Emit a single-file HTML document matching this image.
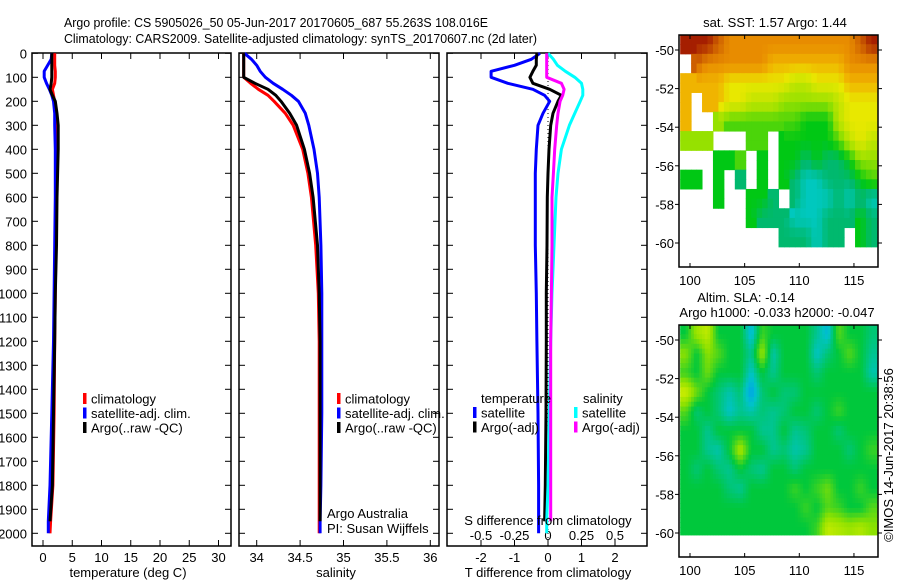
<!DOCTYPE html>
<html><head><meta charset="utf-8">
<style>
html,body{margin:0;padding:0;background:#fff;}
svg{display:block;font-family:"Liberation Sans",Arial,sans-serif;}
text{font-size:13px;fill:#000;}
</style></head>
<body>
<svg id="chart" width="900" height="580" viewBox="0 0 900 580" xmlns="http://www.w3.org/2000/svg">
<rect x="0" y="0" width="900" height="580" fill="#fff"/>
<text x="64" y="27" font-size="14" textLength="424" lengthAdjust="spacingAndGlyphs">Argo profile: CS 5905026_50 05-Jun-2017 20170605_687 55.263S 108.016E</text>
<text x="64" y="43" font-size="14" textLength="473" lengthAdjust="spacingAndGlyphs">Climatology: CARS2009. Satellite-adjusted climatology: synTS_20170607.nc (2d later)</text>
<g id="plots"></g>
</svg>
<script>
// ---- profile data ----
const depths = [0,25,50,75,100,125,150,175,200,250,300,400,500,600,800,1000,1200,1500,1800,1950,2000];
const climT = [2.0,2.0,2.0,2.1,2.1,2.0,1.6,1.8,2.0,2.2,2.3,2.3,2.3,2.3,2.2,2.1,2.0,1.9,1.7,1.3,1.2];
const satT  = [1.5,1.4,0.8,0.2,0.2,0.6,1.1,1.5,1.8,2.0,2.0,2.1,2.1,2.1,2.0,1.9,1.8,1.5,1.2,0.9,0.9];
const argoT = [1.5,1.5,1.5,1.5,1.5,1.4,1.2,1.6,2.1,2.4,2.6,2.6,2.5,2.4,2.3,2.1,2.0,1.8,1.6,1.2,null];
const climS = [33.85,33.85,33.85,33.85,33.85,33.93,34.02,34.13,34.2,34.33,34.42,34.53,34.59,34.63,34.68,34.71,34.72,34.72,34.72,34.72,34.72];
const satS  = [33.86,33.94,34.0,34.04,34.1,34.19,34.3,34.4,34.48,34.56,34.6,34.66,34.7,34.72,34.74,34.75,34.75,34.75,34.74,34.73,34.73];
const argoS = [33.85,33.85,33.85,33.85,33.85,33.98,34.13,34.22,34.28,34.38,34.46,34.55,34.61,34.65,34.7,34.72,34.73,34.73,34.73,34.73,null];
const satTd  = [-0.24,-0.5,-1.0,-1.7,-1.7,-1.2,-0.45,-0.1,0.05,-0.15,-0.3,-0.35,-0.38,-0.38,-0.38,-0.35,-0.33,-0.3,-0.28,-0.28,-0.28];
const argoTd = [-0.33,-0.35,-0.35,-0.45,-0.54,-0.45,0.05,0.4,0.3,0.15,0.08,0.03,0.0,-0.02,-0.03,-0.05,-0.05,-0.06,-0.08,-0.1,null];
const satSd  = [0,0.04,0.07,0.13,0.2,0.25,0.26,0.26,0.24,0.2,0.16,0.1,0.075,0.06,0.045,0.03,0.02,0.01,0.0,-0.01,-0.01];
const argoSd = [-0.01,-0.01,-0.01,-0.01,-0.01,0.1,0.12,0.11,0.09,0.075,0.065,0.05,0.04,0.03,0.03,0.025,0.02,0.02,0.02,0.02,null];
const depthTicks = [0,100,200,300,400,500,600,700,800,900,1000,1100,1200,1300,1400,1500,1600,1700,1800,1900,2000];
const tempTicks = [0,5,10,15,20,25,30];
const salTicks = [34,34.5,35,35.5,36];
const tdTicks = [-2,-1,0,1,2];
const sdTicks = [-0.5,-0.25,0,0.25,0.5];
const sdTickLabels = ["-0.5","-0.25","0","0.25","0.5"];
// ---- map data ----
const mapLons = [99.1,100.1,101.1,102.1,103.1,104.1,105.1,106.1,107.1,108.1,109.1,110.1,111.1,112.1,113.1,114.1,115.1,116.1];
const mapLats = [-49.2,-50.2,-51.2,-52.2,-53.2,-54.2,-55.2,-56.2,-57.2,-58.2,-59.2];
const N = null;
const sstGrid = [
 [6,6,6,5.5,5,5,5,5,5,5,5,5,5,5,5,5,5.5,6],
 [N,5.5,5,5,5,5,5,5,4.5,4.5,4.5,4.5,4.5,4.5,4.5,5,5,5],
 [4.5,4.5,4.5,4.5,4,4,4,4,4,4,3.5,3.5,4,4,4,4.5,4.5,4.5],
 [4.5,N,4.5,4.5,4,4,3.5,3.5,3.5,3,3,3,3,3,3.5,4,4,4],
 [4.5,N,N,3,2.5,2.5,2.5,2.5,2.5,2.5,2.5,2,2,2,3.5,4,4,4],
 [3,3,3,N,N,N,2.5,2.5,N,2,2,2,2,2,2.5,3.5,4,3.5],
 [N,N,N,2,2,2.5,N,2,N,2,2,1.5,2,1.5,1.5,2,3,3],
 [2,2,N,2,N,1.5,N,2,N,2,1.5,1,1,1.5,1.5,1.5,2,2.5],
 [N,N,N,2,N,N,2,2,1.5,N,1.5,1,1,1,1.5,1,1.5,1],
 [N,N,N,N,N,N,2,1.5,1.5,1.5,1,1,1,1.5,1.5,1.5,2,1.5],
 [N,N,N,N,N,N,N,N,N,1.5,1.5,1.5,1,1.5,1.5,N,2,1.5]
];
const slaGrid = [
 [0,0.6,0.8,0,0,0,-0.6,0.2,0,0,0,0,-0.3,-0.6,0.3,0,0,-0.2],
 [0.5,0,0.5,0.3,0,0,-0.3,0.6,-0.4,0,0,0,-0.5,-0.2,0,0.3,0,-0.3],
 [0.2,0,0.4,0,0,0,-0.5,0,-0.3,0,0,0,-0.2,0,0,0,0,-0.4],
 [0.9,0.4,0,-0.2,-0.4,-0.2,-0.8,-0.2,0,-0.2,-0.2,0,0,0,0,0,0,0],
 [0.3,-0.2,0,-0.2,-0.5,-0.3,-0.4,-0.2,-0.3,-0.2,0,0,-0.2,0,0.2,0,0,0],
 [0,0,-0.3,0,0,0,0,-0.3,-0.3,0,-0.3,-0.2,0,0,-0.2,0,0,0],
 [0,0,-0.3,-0.4,0,0.7,0,0,-0.3,-0.2,-0.4,-0.3,0,0,0,-0.2,0,0.2],
 [0,-0.2,0,-0.2,-0.3,0,-0.2,-0.3,0,0,-0.2,0,0,0,0,0,0,0],
 [0,0,0,0,-0.2,-0.3,0,0,0,0,0.2,0,0.2,0.4,0,0,0.2,0],
 [0,0,0,0,0,0,0,0,0,0,0,0.2,0,0.3,0.2,0,0,0.3],
 [0,0,0,0,0,0,0,0,0,0,0,0,0.2,0.8,0.7,0.6,0.7,0.5]
];
const lonTicks = [100,105,110,115];
const latTicks = [-50,-52,-54,-56,-58,-60];

const NS = "http://www.w3.org/2000/svg";
const root = document.getElementById('plots');
function el(tag, attrs, parent){ const e=document.createElementNS(NS,tag); for(const k in attrs) e.setAttribute(k,attrs[k]); (parent||root).appendChild(e); return e; }
function txt(s, x, y, anchor, parent){ const t=el('text',{x:x,y:y,'text-anchor':anchor||'start'},parent); t.textContent=s; return t; }

const yD = d => 53.3 + d*0.24;
const PTOP=53, PBOT=546;

function panel(name, x0, x1){
  const g = el('g',{});
  
  
  const r = el('rect',{x:x0,y:PTOP,width:x1-x0,height:PBOT-PTOP,fill:'none',stroke:'#000','stroke-width':1.5},g);
  
  
  depthTicks.forEach(d=>{
    el('line',{x1:x0,x2:x0+6,y1:yD(d),y2:yD(d),stroke:'#000'},g);
    el('line',{x1:x1,x2:x1-6,y1:yD(d),y2:yD(d),stroke:'#000'},g);
  });
  return g;
}
function xticks(g, ticks, fx, labels, ly){
  ticks.forEach((t,i)=>{
    const x=fx(t);
    el('line',{x1:x,x2:x,y1:PTOP,y2:PTOP+6,stroke:'#000'},g);
    el('line',{x1:x,x2:x,y1:PBOT,y2:PBOT-6,stroke:'#000'},g);
    const tl = txt(labels?labels[i]:String(t), x, ly, 'middle', g);
    
    
  });
}
function series(g, vals, fx, color, name, w){
  let pts=[];
  vals.forEach((v,i)=>{ if(v!==null) pts.push(fx(v).toFixed(1)+','+yD(depths[i]).toFixed(1)); });
  const p = el('polyline',{points:pts.join(' '),fill:'none',stroke:color,'stroke-width':w||3,'stroke-linejoin':'round'},g);
  
  
}
function legend(g, items, x, y0){
  items.forEach((it,i)=>{
    const y=y0+i*14.5;
    el('rect',{x:x,y:y-6,width:3.5,height:11,fill:it[1]},g);
    const t=txt(it[0], x+8, y+4.5, 'start', g);
    
    
  });
}

depthTicks.forEach(d=>{ const t=txt(String(d), 27, yD(d)+5, 'end');   });

const xT = t => 43 + t*5.85;
const g1 = panel('temperature-panel', 32, 231);
xticks(g1, tempTicks, xT, null, 562);
series(g1, climT, xT, '#ff0000', 'temp-climatology-line');
series(g1, satT, xT, '#0000ff', 'temp-satellite-line');
series(g1, argoT, xT, '#000000', 'temp-argo-line');
legend(g1, [['climatology','#f00'],['satellite-adj. clim.','#00f'],['Argo(..raw -QC)','#000']], 83, 399);
const at1=txt('temperature (deg C)', 128, 577, 'middle', g1);  

const xS = s => 256.7 + (s-34)*86.8;
const g2 = panel('salinity-panel', 239, 439);
xticks(g2, salTicks, xS, null, 562);
series(g2, climS, xS, '#ff0000', 'sal-climatology-line');
series(g2, satS, xS, '#0000ff', 'sal-satellite-line');
series(g2, argoS, xS, '#000000', 'sal-argo-line');
legend(g2, [['climatology','#f00'],['satellite-adj. clim.','#00f'],['Argo(..raw -QC)','#000']], 337, 399);
const c1=txt('Argo Australia', 327, 518, 'start', g2);  
const c2=txt('PI: Susan Wijffels', 327, 533, 'start', g2);  
const at2=txt('salinity', 336, 577, 'middle', g2);  

const xTd = t => 548 + t*33.5;
const xSd = s => 548 + s*134;
const g3 = panel('difference-panel', 447, 647);
tdTicks.forEach(t=>{ const x=xTd(t); el('line',{x1:x,x2:x,y1:PTOP,y2:PTOP+6,stroke:'#000'},g3); el('line',{x1:x,x2:x,y1:PBOT,y2:PBOT-6,stroke:'#000'},g3); const tl=txt(String(t),x,562,'middle',g3);   });
sdTicks.forEach((s,i)=>{ const tl=txt(sdTickLabels[i], xSd(s), 540, 'middle', g3);   });
el('line',{x1:548,x2:548,y1:PTOP,y2:PBOT,stroke:'#000','stroke-width':1,'stroke-dasharray':'1,3'},g3);
series(g3, satTd, xTd, '#0000ff', 'tdiff-satellite-line');
series(g3, argoTd, xTd, '#000000', 'tdiff-argo-line');
series(g3, satSd, xSd, '#00ffff', 'sdiff-satellite-line');
series(g3, argoSd, xSd, '#ff00ff', 'sdiff-argo-line');
const lt=txt('temperature', 481, 403, 'start', g3);  
const ls=txt('salinity', 583, 403, 'start', g3);  
legend(g3, [['satellite','#00f'],['Argo(-adj)','#000']], 473, 413);
legend(g3, [['satellite','#0ff'],['Argo(-adj)','#f0f']], 574, 413);
const st=txt('S difference from climatology', 548, 525, 'middle', g3);  
const tt=txt('T difference from climatology', 548, 577, 'middle', g3);  

// ---- maps ----
const MX0=679, MX1=878;
const xLon = l => 690 + (l-100)*10.93;
function sstColor(v){
  const stops=[[0,[0,80,255]],[1,[0,200,190]],[1.5,[0,185,110]],[2,[0,200,20]],[3,[150,225,0]],[4,[232,232,0]],[4.5,[240,180,0]],[5,[232,140,0]],[5.5,[205,95,0]],[6,[165,30,0]]];
  return interp(stops,v);
}
function slaColor(v){
  const stops=[[-1,[0,140,255]],[-0.5,[0,195,200]],[0,[0,200,60]],[0.5,[140,225,0]],[1,[225,240,0]]];
  return interp(stops,v);
}
function interp(stops,v){
  if(v<=stops[0][0]) return 'rgb('+stops[0][1]+')';
  for(let i=1;i<stops.length;i++){ if(v<=stops[i][0]){ const a=stops[i-1],b=stops[i],f=(v-a[0])/(b[0]-a[0]); return 'rgb('+a[1].map((c,k)=>Math.round(c+(b[1][k]-c)*f)).join(',')+')'; } }
  return 'rgb('+stops[stops.length-1][1]+')';
}
function sample(grid, r, c){
  // bilinear sample at fractional (row,col) centers; null if any neighbour missing
  const R=grid.length, C=grid[0].length;
  const rr=Math.min(Math.max(r-0.5,0),R-1), cc=Math.min(Math.max(c-0.5,0),C-1);
  const r0=Math.floor(rr), c0=Math.floor(cc), r1=Math.min(r0+1,R-1), c1=Math.min(c0+1,C-1);
  const fr=rr-r0, fc=cc-c0;
  const a=grid[r0][c0], b=grid[r0][c1], d=grid[r1][c0], e=grid[r1][c1];
  if(a===null||b===null||d===null||e===null) return grid[Math.floor(r)][Math.floor(c)];
  return a*(1-fr)*(1-fc)+b*(1-fr)*fc+d*fr*(1-fc)+e*fr*fc;
}
function drawMap(name, grid, colorFn, yLat, top, bottom, latBottom, sub){
  const g=el('g',{});
  
  
  grid.forEach((row,r)=>{
    row.forEach((v,c)=>{
      if(v===null) return;
      for(let i=0;i<sub;i++){ for(let j=0;j<sub;j++){
        const la0=mapLats[r]-i/sub, la1=Math.max(mapLats[r]-(i+1)/sub, latBottom);
        if(la1>=la0) continue;
        const lo0=mapLons[c]+j/sub, lo1=mapLons[c]+(j+1)/sub;
        const x0=Math.max(xLon(lo0),MX0), x1=Math.min(xLon(lo1),MX1);
        if(x1<=x0) continue;
        const val = sub>1 ? sample(grid, r+(i+0.5)/sub, c+(j+0.5)/sub) : v;
        const cell=el('rect',{x:x0,y:yLat(la0),width:x1-x0+0.5,height:yLat(la1)-yLat(la0)+0.5,fill:colorFn(val)},g);
        
        
      }}
    });
  });
  const fr=el('rect',{x:MX0,y:top,width:MX1-MX0,height:bottom-top,fill:'none',stroke:'#000','stroke-width':1.5},g);
  
  
  lonTicks.forEach(l=>{ const x=xLon(l); el('line',{x1:x,x2:x,y1:top,y2:top+4,stroke:'#000'},g); el('line',{x1:x,x2:x,y1:bottom,y2:bottom-4,stroke:'#000'},g); const t=txt(String(l),x,bottom+18,'middle',g);   });
  latTicks.forEach(l=>{ const y=yLat(l); el('line',{x1:MX0,x2:MX0-4,y1:y,y2:y,stroke:'#000'},g); el('line',{x1:MX1,x2:MX1+4,y1:y,y2:y,stroke:'#000'},g); const t=txt(String(l),674,y+5,'end',g);   });
  return g;
}
const yLatTop = l => 50 + (-50-l)*19.3;
const gm1=drawMap('sst-map', sstGrid, sstColor, yLatTop, 35, 267, -61.2, 2);
const mt1=txt('sat. SST: 1.57 Argo: 1.44', 775, 27, 'middle', gm1);  
const yLatBot = l => 340 + (-50-l)*19.3;
const gm2=drawMap('sla-map', slaGrid, slaColor, yLatBot, 325, 557, -60.1, 4);
const mt2=txt('Altim. SLA: -0.14', 746, 302, 'middle', gm2);  
const mt3=txt('Argo h1000: -0.033 h2000: -0.047', 777, 317, 'middle', gm2);  
const cr=txt('©IMOS 14-Jun-2017 20:38:56', 0, 0, 'middle');
cr.setAttribute('transform','translate(893,455) rotate(-90)');


</script>
</body></html>
